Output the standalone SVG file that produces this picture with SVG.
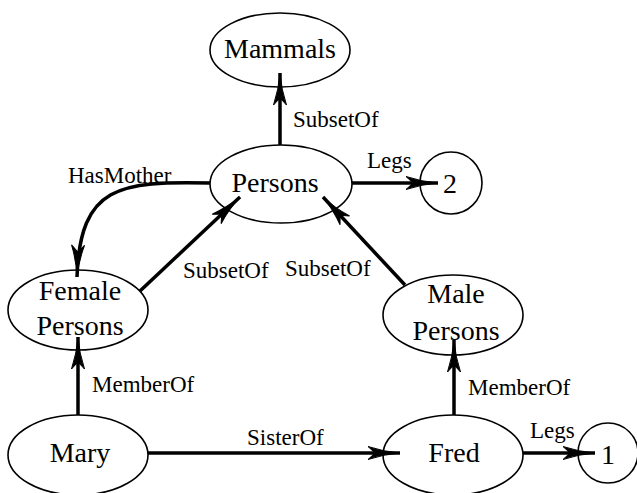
<svg xmlns="http://www.w3.org/2000/svg" width="637" height="493" viewBox="0 0 637 493">
<style>
.node{fill:#fff;stroke:#000;stroke-width:1.6}
.edge{fill:none;stroke:#000;stroke-width:3.5}
.nt{font-family:"Liberation Serif","Times New Roman",serif;fill:#000;font-size:28px}
.lt{font-family:"Liberation Serif","Times New Roman",serif;fill:#000;font-size:23px}
</style>
<defs>
<marker id="ah" markerUnits="userSpaceOnUse" markerWidth="40" markerHeight="20" viewBox="-36 -10 40 20" refX="0" refY="0" orient="auto" overflow="visible">
<path d="M0,0 Q-16,-1.2 -32,-6.5 L-25,0 L-32,6.5 Q-16,1.2 0,0 Z" fill="#000" stroke="#000" stroke-width="1" stroke-linejoin="miter"/>
</marker>
</defs>
<g id="nodes-shapes">
<g id="mammals"><ellipse class="node" cx="280" cy="50" rx="70" ry="37"/><text class="nt" x="280" y="58" text-anchor="middle">Mammals</text></g>
<g id="persons"><ellipse class="node" cx="281" cy="184" rx="71" ry="39"/><text class="nt" x="275" y="192" text-anchor="middle">Persons</text></g>
<g id="two"><circle class="node" cx="451" cy="183" r="31"/><text class="nt" x="450" y="193" text-anchor="middle">2</text></g>
<g id="female"><ellipse class="node" cx="78" cy="310" rx="70" ry="40"/><text class="nt" x="80" y="300" text-anchor="middle" font-size="26">Female</text><text class="nt" x="80" y="335" text-anchor="middle" font-size="26">Persons</text></g>
<g id="male"><ellipse class="node" cx="453" cy="315" rx="70" ry="40"/><text class="nt" x="456" y="303" text-anchor="middle" font-size="28">Male</text><text class="nt" x="456" y="340" text-anchor="middle" font-size="26">Persons</text></g>
<g id="mary"><ellipse class="node" cx="78" cy="455" rx="70" ry="40"/><text class="nt" x="80" y="462" text-anchor="middle">Mary</text></g>
<g id="fred"><ellipse class="node" cx="453" cy="455" rx="70" ry="40"/><text class="nt" x="454" y="462" text-anchor="middle">Fred</text></g>
<g id="one"><circle class="node" cx="608" cy="453" r="30"/><text class="nt" x="608" y="464" text-anchor="middle">1</text></g>
</g>
<g id="connectors">
<path class="edge" d="M280,145 L280,73" marker-end="url(#ah)"/>
<path class="edge" d="M352,183 L438,183" marker-end="url(#ah)"/>
<path class="edge" d="M210,183 C120,181 80,185 77,277" marker-end="url(#ah)"/>
<path class="edge" d="M140,291 L240,197" marker-end="url(#ah)"/>
<path class="edge" d="M405,285 L323,197" marker-end="url(#ah)"/>
<path class="edge" d="M78,415 L78,337" marker-end="url(#ah)"/>
<path class="edge" d="M454,415 L454,340" marker-end="url(#ah)"/>
<path class="edge" d="M148,453 L400,453" marker-end="url(#ah)"/>
<path class="edge" d="M523,453 L595,453" marker-end="url(#ah)"/>
</g>
<g id="labels">
<text class="lt" x="293" y="127">SubsetOf</text>
<text class="lt" x="367" y="168">Legs</text>
<text class="lt" x="68" y="183">HasMother</text>
<text class="lt" x="183" y="278">SubsetOf</text>
<text class="lt" x="285" y="276">SubsetOf</text>
<text class="lt" x="92" y="392">MemberOf</text>
<text class="lt" x="468" y="395">MemberOf</text>
<text class="lt" x="247" y="445">SisterOf</text>
<text class="lt" x="530" y="438">Legs</text>
</g>
</svg>
